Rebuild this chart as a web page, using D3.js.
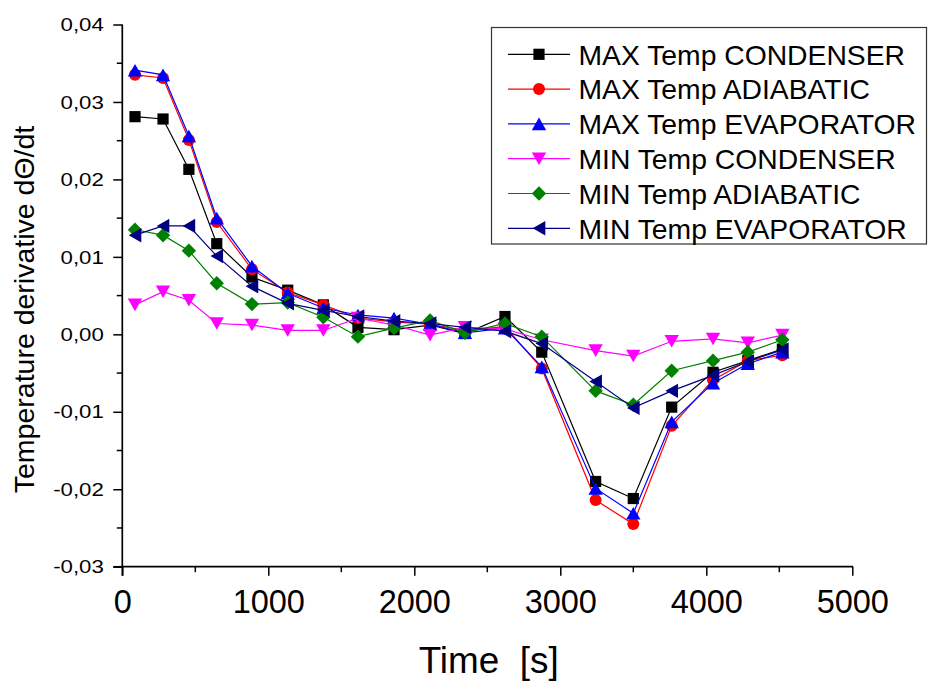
<!DOCTYPE html>
<html>
<head>
<meta charset="utf-8">
<script src="https://cdn.jsdelivr.net/npm/d3@7"></script>
<style>
  html, body { margin: 0; padding: 0; background: #fff; }
  svg { display: block; font-family: "Liberation Sans", Arial, sans-serif; }
</style>
</head>
<body>
<svg id="chart" width="928" height="682"></svg>
<script>
// ---- data ----
const times = [87, 279, 456, 647, 888, 1133, 1377, 1614, 1861, 2108, 2347, 2621, 2873, 3242, 3500, 3763, 4046, 4284, 4521];

const maxCondenser  = [0.0281, 0.0278, 0.0213, 0.0117, 0.0074, 0.0057, 0.0038, 0.0009, 0.0006, 0.0012, 0.0001, 0.0023, -0.0023, -0.0190, -0.0212, -0.0094, -0.0049, -0.0034, -0.0019];
const maxAdiabatic  = [0.0335, 0.0331, 0.0251, 0.0145, 0.0084, 0.0054, 0.0038, 0.0021, 0.0016, 0.0013, 0.0005, 0.0010, -0.0044, -0.0214, -0.0245, -0.0118, -0.0059, -0.0034, -0.0027];
const maxEvaporator = [0.0341, 0.0335, 0.0256, 0.0150, 0.0088, 0.0053, 0.0034, 0.0025, 0.0021, 0.0013, 0.0002, 0.0008, -0.0042, -0.0199, -0.0231, -0.0113, -0.0063, -0.0038, -0.0023];
const minCondenser  = [0.0038, 0.0055, 0.0044, 0.0014, 0.0012, 0.0005, 0.0005, 0.0021, 0.0012, -0.0001, 0.0009, 0.0007, -0.0007, -0.0021, -0.0028, -0.0009, -0.0006, -0.0011, -0.0001];
const minAdiabatic  = [0.0135, 0.0128, 0.0108, 0.0066, 0.0039, 0.0041, 0.0022, -0.0003, 0.0008, 0.0018, 0.0002, 0.0014, -0.0003, -0.0073, -0.0091, -0.0047, -0.0034, -0.0023, -0.0007];
const minEvaporator = [0.0128, 0.0140, 0.0140, 0.0101, 0.0062, 0.0040, 0.0031, 0.0023, 0.0017, 0.0014, 0.0009, 0.0004, -0.0012, -0.0061, -0.0095, -0.0073, -0.0053, -0.0035, -0.0020];

const seriesNames = ["MAX Temp CONDENSER", "MAX Temp ADIABATIC", "MAX Temp EVAPORATOR",
                     "MIN Temp CONDENSER", "MIN Temp ADIABATIC", "MIN Temp EVAPORATOR"];
const seriesValues = [maxCondenser, maxAdiabatic, maxEvaporator, minCondenser, minAdiabatic, minEvaporator];

const xTicks = [0, 1000, 2000, 3000, 4000, 5000];
const yTicks = [-0.03, -0.02, -0.01, 0.00, 0.01, 0.02, 0.03, 0.04];
const xTitle = "Time  [s]";
const yTitle = "Temperature derivative dΘ/dt";

// ---- styles ----
const colors = ["#000000", "#ff0000", "#0000ff", "#ff00ff", "#008000", "#000080"];
const shapes = ["square", "circle", "up", "down", "diamond", "left"];

const svg = d3.select("#chart");
const X0 = 122.3, X1 = 852.3, YT = 24.5, YB = 566.7;

const x = d3.scaleLinear().domain([0, 5000]).range([X0, X1]);
const y = d3.scaleLinear().domain([-0.03, 0.04]).range([YB, YT]);

function markerPath(shape) {
  switch (shape) {
    case "square":  { const h = 5.6; return `M${-h},${-h}H${h}V${h}H${-h}Z`; }
    case "circle":  { const r = 6; return `M${r},0A${r},${r} 0 1,1 ${-r},0A${r},${r} 0 1,1 ${r},0Z`; }
    case "up":      { const w = 7.2, h = 6.3; return `M0,${-h}L${w},${h}L${-w},${h}Z`; }
    case "down":    { const w = 7.2, h = 6.3; return `M0,${h}L${w},${-h}L${-w},${-h}Z`; }
    case "diamond": { const r = 7.2; return `M0,${-r}L${r},0L0,${r}L${-r},0Z`; }
    case "left":    { const w = 6.3, h = 7.2; return `M${-w},0L${w},${-h}L${w},${h}Z`; }
  }
}

// ---- axes ----
const fmt = v => d3.format(".2f")(v).replace(".", ",").replace("−", "-");

const xMinor = d3.range(0, 5001, 500).filter(v => v % 1000 !== 0);
const yMinor = d3.range(-0.025, 0.04, 0.01);

const gx = svg.append("g").attr("transform", `translate(0,${YB})`);
gx.call(d3.axisBottom(x).tickValues(xTicks).tickSize(9).tickSizeOuter(0).tickFormat(d3.format("d")));
gx.select(".domain").attr("stroke-width", 1.7).attr("d", `M${X0 - 0.5},0H${X1 + 0.8}`);
gx.selectAll(".tick line").attr("stroke-width", 1.5);
gx.selectAll(".tick text").attr("font-size", 32.5).attr("font-family", "Liberation Sans, Arial, sans-serif")
  .attr("fill", "#000").attr("dy", 0).attr("y", 46.6);
gx.selectAll(".minor").data(xMinor).enter().append("line").attr("class", "minor")
  .attr("x1", d => x(d)).attr("x2", d => x(d)).attr("y1", 0).attr("y2", 5.5)
  .attr("stroke", "#000").attr("stroke-width", 1.5);

const gy = svg.append("g").attr("transform", `translate(${X0},0)`);
gy.call(d3.axisLeft(y).tickValues(yTicks).tickSize(9).tickSizeOuter(0).tickFormat(fmt));
gy.select(".domain").attr("stroke-width", 1.7).attr("d", `M0,${YT}V${YB + 9}`);
gy.selectAll(".tick line").attr("stroke-width", 1.5);
const ySX = 1.27;
gy.selectAll(".tick text").attr("font-size", 17.5).attr("font-family", "Liberation Sans, Arial, sans-serif")
  .attr("fill", "#000").attr("dy", 0).attr("x", null).attr("y", null)
  .attr("transform", `translate(-18.5,6.2) scale(${ySX},1)`);
gy.selectAll(".minor").data(yMinor).enter().append("line").attr("class", "minor")
  .attr("x1", -5.5).attr("x2", 0).attr("y1", d => y(d)).attr("y2", d => y(d))
  .attr("stroke", "#000").attr("stroke-width", 1.5);
svg.append("line").attr("x1", X0 - 9).attr("x2", X0).attr("y1", YB).attr("y2", YB)
  .attr("stroke", "#000").attr("stroke-width", 1.5);

// axis titles
svg.append("text").attr("x", 488.7).attr("y", 673.3).attr("text-anchor", "middle")
  .attr("font-size", 37.5).style("white-space", "pre").attr("xml:space", "preserve")
  .attr("textLength", 140).attr("lengthAdjust", "spacingAndGlyphs")
  .attr("fill", "#000").text(xTitle);
svg.append("text").attr("transform", "translate(33.5,309.5) rotate(-90)")
  .attr("text-anchor", "middle").attr("font-size", 28.5).attr("fill", "#000").text(yTitle);

// ---- series ----
const line = d3.line().x(d => x(d[0])).y(d => y(d[1]));
seriesValues.forEach((vals, i) => {
  const pts = times.map((t, j) => [t, vals[j]]);
  const g = svg.append("g");
  g.append("path").datum(pts).attr("d", line).attr("fill", "none")
    .attr("stroke", colors[i]).attr("stroke-width", 1.2);
  g.selectAll("path.m").data(pts).enter().append("path").attr("class", "m")
    .attr("d", markerPath(shapes[i]))
    .attr("transform", d => `translate(${x(d[0])},${y(d[1])})`)
    .attr("fill", colors[i]);
});

// ---- legend ----
const lg = svg.append("g");
lg.append("rect").attr("x", 491.5).attr("y", 27.5).attr("width", 435).attr("height", 216.5)
  .attr("fill", "#fff").attr("stroke", "#333").attr("stroke-width", 1.2);
seriesNames.forEach((name, i) => {
  const cy = 54.3 + i * 34.8;
  lg.append("line").attr("x1", 508).attr("x2", 570).attr("y1", cy).attr("y2", cy)
    .attr("stroke", colors[i]).attr("stroke-width", 1.2);
  lg.append("path").attr("d", markerPath(shapes[i])).attr("transform", `translate(539,${cy})`)
    .attr("fill", colors[i]);
  lg.append("text").attr("x", 578.5).attr("y", cy + 10.2).attr("font-size", 28.3)
    .attr("fill", "#000").text(name);
});
</script>
</body>
</html>
